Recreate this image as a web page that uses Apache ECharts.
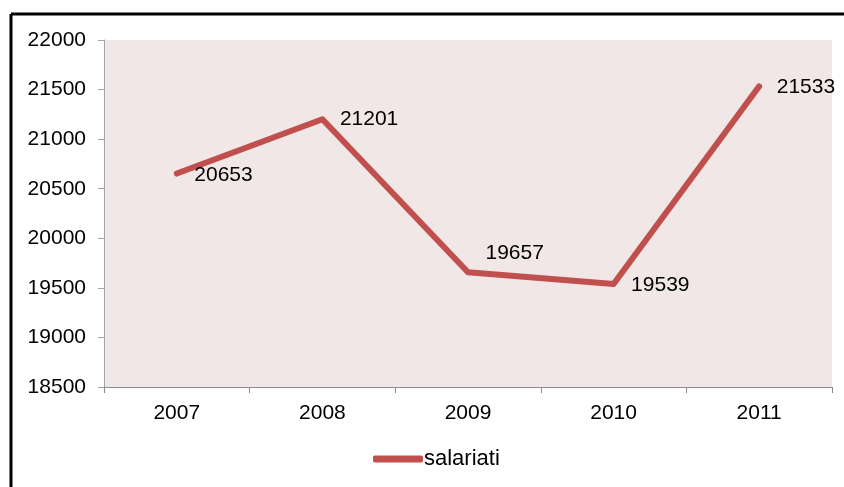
<!DOCTYPE html>
<html>
<head>
<meta charset="utf-8">
<script src="https://cdn.jsdelivr.net/npm/echarts@6/dist/echarts.min.js"></script>
<style>
    html, body { margin: 0; padding: 0; background: #fff; }
    #chart { width: 844px; height: 487px; }
</style>
</head>
<body>
<div id="chart"></div>
<script>
    // dati
    var anni = ['2007', '2008', '2009', '2010', '2011'];
    var salariati = [20653, 21201, 19657, 19539, 21533];
    // spostamento etichette [x, y]
    var labelOffsets = [[12, 2], [12, 0], [12, -19], [12, 1], [12, 1]];

    var myChart = echarts.init(document.getElementById('chart'));

    var font = 'Liberation Sans, Arial, sans-serif';

    var dati = salariati.map(function (v, i) {
        return {
            value: v,
            label: { offset: labelOffsets[i] }
        };
    });

    var option = {
        animation: false,
        textStyle: { fontFamily: font },
        grid: {
            left: 104,
            right: 12,
            top: 40,
            bottom: 100,
            show: true,
            backgroundColor: '#F2E7E7',
            borderWidth: 0
        },
        legend: {
            data: ['salariati'],
            bottom: 12,
            left: 368,
            icon: 'roundRect',
            itemWidth: 50,
            itemHeight: 7,
            textStyle: { fontSize: 22, color: '#000', fontFamily: font, padding: [0, 0, 0, -4] }
        },
        xAxis: {
            type: 'category',
            data: anni,
            boundaryGap: true,
            axisLine: { lineStyle: { color: '#8C8C8C', width: 1 } },
            axisTick: { show: true, length: 6, lineStyle: { color: '#8C8C8C' } },
            axisLabel: { fontSize: 21, color: '#000', margin: 16, fontFamily: font }
        },
        yAxis: {
            type: 'value',
            min: 18500,
            max: 22000,
            interval: 500,
            axisLine: { show: true, lineStyle: { color: '#A6A6A6' } },
            axisTick: { show: true, length: 6, lineStyle: { color: '#A6A6A6' } },
            splitLine: { show: false },
            axisLabel: {
                fontSize: 21, color: '#000', margin: 18, fontFamily: font,
                formatter: function (v) { return String(v); }
            }
        },
        graphic: [
            { type: 'line', shape: { x1: 11, y1: 14, x2: 11, y2: 487 }, style: { stroke: '#000', lineWidth: 3 } },
            { type: 'line', shape: { x1: 11, y1: 14, x2: 844, y2: 14 }, style: { stroke: '#000', lineWidth: 3 } }
        ],
        series: [
            {
                name: 'salariati',
                type: 'line',
                data: dati,
                symbol: 'circle',
                symbolSize: 1,
                itemStyle: { color: '#C0504D' },
                lineStyle: { color: '#C0504D', width: 6, cap: 'round', join: 'round' },
                label: {
                    show: true,
                    position: 'right',
                    fontSize: 21,
                    color: '#000',
                    fontFamily: font
                }
            }
        ]
    };

    myChart.setOption(option);
</script>
</body>
</html>
